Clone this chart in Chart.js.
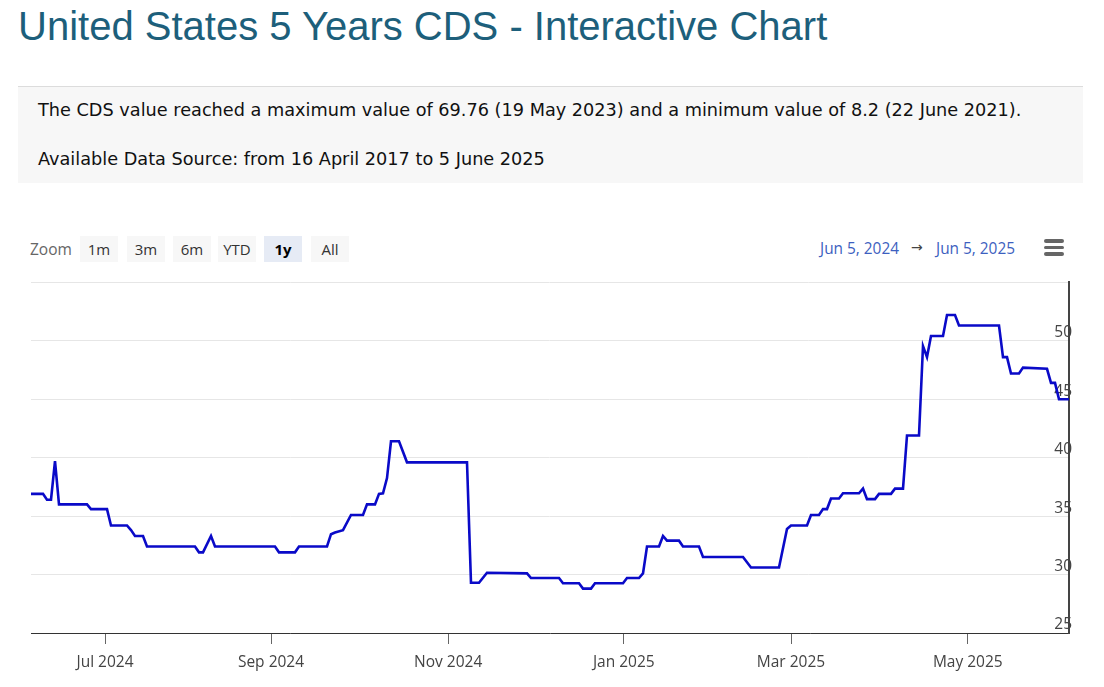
<!DOCTYPE html>
<html>
<head>
<meta charset="utf-8">
<script src="https://cdn.jsdelivr.net/npm/chart.js@4"></script>
<style>
  html, body { margin:0; padding:0; background:#fff; width:1104px; height:687px; overflow:hidden; position:relative; }
  .title { position:absolute; left:18px; top:4px; font-family:"Liberation Sans", Arial, sans-serif; font-size:40px; color:#1d5f7b; white-space:nowrap; }
  .info { position:absolute; left:18px; top:86px; width:1065px; height:96px; background:#f7f7f7; border-top:1px solid #dcdcdc; }
  .info p { position:absolute; left:20px; margin:0; font-family:"DejaVu Sans", Verdana, sans-serif; font-size:17.7px; color:#111; white-space:nowrap; }
  .zoomlbl { position:absolute; left:30px; top:238px; font-family:"Open Sans", sans-serif; font-size:15.5px; color:#666; }
  .btn { position:absolute; top:236px; height:26px; width:38px; background:#f7f7f7; font-family:"Open Sans", sans-serif; font-size:15px; color:#333; text-align:center; line-height:26px; }
  .btn.sel { background:#e6ebf5; font-weight:bold; color:#000; }
  .range { position:absolute; top:238px; font-family:"Open Sans", sans-serif; font-size:15.4px; color:#3d5fc0; white-space:nowrap; }
  .arrow { position:absolute; top:239px; left:911px; font-family:"DejaVu Sans", sans-serif; font-size:14px; color:#444; }
  .bar { position:absolute; left:1044px; width:20px; height:3.5px; background:#666; border-radius:2px; }
  #wrap { position:absolute; left:0; top:270px; width:1104px; height:417px; }
</style>
</head>
<body>
<div class="title">United States 5 Years CDS - Interactive Chart</div>
<div class="info">
  <p style="top:12.5px">The CDS value reached a maximum value of 69.76 (19 May 2023) and a minimum value of 8.2 (22 June 2021).</p>
  <p style="top:62.3px">Available Data Source: from 16 April 2017 to 5 June 2025</p>
</div>
<div class="zoomlbl">Zoom</div>
<div class="btn" style="left:80px">1m</div>
<div class="btn" style="left:127px">3m</div>
<div class="btn" style="left:173px">6m</div>
<div class="btn" style="left:218px">YTD</div>
<div class="btn sel" style="left:264px">1y</div>
<div class="btn" style="left:311px">All</div>
<div class="range" style="left:820px">Jun 5, 2024</div>
<div class="arrow">→</div>
<div class="range" style="left:936px">Jun 5, 2025</div>
<div class="bar" style="top:239px"></div>
<div class="bar" style="top:245.5px"></div>
<div class="bar" style="top:252px"></div>
<div id="wrap"><canvas id="c" width="1104" height="417"></canvas></div>
<script>
// Ordinal (trading-session) position of each point, Jun 5 2024 .. Jun 5 2025
const sessionIdx = [0,3,4,5,6,7,14,15,19,20,24,25,26,28,29,41,42,43,45,46,61,62,66,67,74,75,76,78,80,83,84,86,87,88,89,90,92,94,109,110,112,114,124,125,132,133,137,138,140,141,148,149,152,153,154,157,158,159,162,163,167,168,178,180,187,189,190,194,195,197,198,199,200,202,203,207,208,209,211,212,215,216,218,219,222,223,224,225,228,229,231,232,242,243,244,245,247,248,254,255,256,257,259.5];
const cdsValues  = [36.9,36.9,36.4,36.4,39.7,36.0,36.0,35.6,35.6,34.2,34.2,33.8,33.3,33.3,32.4,32.4,31.9,31.9,33.3,32.4,32.4,31.9,31.9,32.4,32.4,33.45,33.6,33.8,35.1,35.1,36.0,36.0,36.9,36.95,38.25,41.4,41.4,39.6,39.6,29.3,29.3,30.15,30.1,29.7,29.7,29.26,29.26,28.8,28.8,29.26,29.26,29.7,29.7,30.1,32.4,32.4,33.3,32.9,32.9,32.4,32.4,31.5,31.5,30.6,30.6,33.9,34.2,34.2,35.1,35.1,35.6,35.6,36.5,36.5,36.95,36.95,37.35,36.45,36.45,36.9,36.9,37.35,37.35,41.9,41.9,49.55,48.6,50.4,50.4,52.2,52.2,51.3,51.3,48.6,48.6,47.2,47.2,47.7,47.6,46.4,46.4,45.0,45.0];
// Month tick positions (ordinal) and their labels
const monthTickIdx = [18.5, 60, 104.3, 148.2, 190, 234.2];
const monthTickLabels = ["Jul 2024","Sep 2024","Nov 2024","Jan 2025","Mar 2025","May 2025"];
const yTicks = [25,30,35,40,45,50,55];

const points = sessionIdx.map((x,i)=>({x:x, y:cdsValues[i]}));

new Chart(document.getElementById('c'), {
  type: 'line',
  data: { datasets: [{ data: points, borderColor:'#0a0ac8', borderWidth:2.6, pointRadius:0, tension:0, fill:false }] },
  options: {
    responsive:false, animation:false,
    layout: { padding: { left:31, right:35, top:10, bottom:0 } },
    plugins: { legend:{display:false}, tooltip:{enabled:false} },
    scales: {
      x: {
        type:'linear', min:0, max:259.5,
        afterBuildTicks: s => { s.ticks = monthTickIdx.map(v=>({value:v})); },
        afterFit: s => { s.height = 54; },
        ticks: { callback: (v, i) => monthTickLabels[i], color:'#444', font:{family:'"Open Sans", sans-serif', size:15.5}, padding:9, maxRotation:0, autoSkip:false },
        grid: { drawOnChartArea:false, drawTicks:true, tickLength:11, tickColor:'#666', tickWidth:1 },
        border: { color:'#333', width:1 }
      },
      y: {
        position:'right', min:25, max:55,
        afterBuildTicks: s => { s.ticks = yTicks.map(v=>({value:v})); },
        afterFit: s => { s.width = 0; },
        ticks: { mirror:true, padding:3, labelOffset:-8, color:'#444', font:{family:'"Open Sans", sans-serif', size:15.5},
                 callback: v => v === 55 ? '' : String(v) },
        grid: { color:'#e6e6e6', lineWidth:1, drawTicks:false },
        border: { color:'#444', width:2 }
      }
    }
  }
});
</script>
</body>
</html>
